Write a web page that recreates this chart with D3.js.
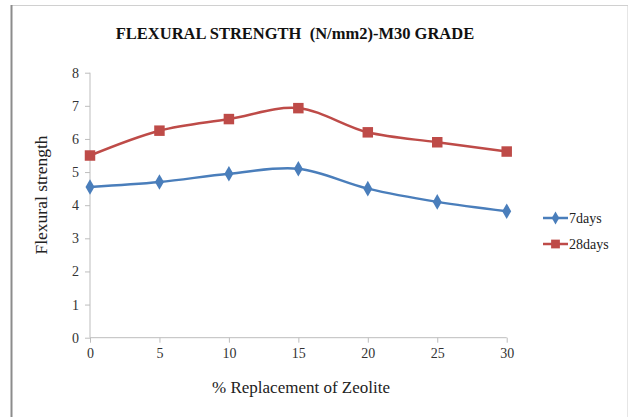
<!DOCTYPE html>
<html>
<head>
<meta charset="utf-8">
<script src="https://cdn.jsdelivr.net/npm/d3@7"></script>
<style>
  html, body { margin: 0; padding: 0; background: #fff; }
  svg { display: block; }
</style>
</head>
<body>
<svg id="chart" width="630" height="417" style="font-family: 'Liberation Serif', serif">
  <text id="title" x="295" y="39" text-anchor="middle" font-family="Liberation Serif" font-size="16.5" font-weight="bold" fill="#111" xml:space="preserve">FLEXURAL STRENGTH  (N/mm2)-M30 GRADE</text>
  <text id="ytitle" transform="translate(47,195) rotate(-90)" text-anchor="middle" font-family="Liberation Serif" font-size="17.5" fill="#222">Flexural strength</text>
  <text id="xtitle" x="301" y="393" text-anchor="middle" font-family="Liberation Serif" font-size="17" fill="#222">% Replacement of Zeolite</text>
</svg>
<script>
// Zeolite replacement levels (%) and flexural strength results (N/mm2)
const replacement = [0, 5, 10, 15, 20, 25, 30];
const days7  = [4.55, 4.7, 4.95, 5.1, 4.5, 4.1, 3.82];
const days28 = [5.5, 6.25, 6.6, 6.93, 6.2, 5.9, 5.62];
const yTicks = [0, 1, 2, 3, 4, 5, 6, 7, 8];
const xTicks = [0, 5, 10, 15, 20, 25, 30];
const seriesNames = ["7days", "28days"];

const serif = "Liberation Serif";
const svg = d3.select("#chart");

// outer frame
svg.insert("line", ":first-child").attr("x1", 11.5).attr("x2", 11.5).attr("y1", 5).attr("y2", 417)
  .attr("stroke", "#8c8c8c").attr("stroke-width", 2);
svg.insert("line", ":first-child").attr("x1", 11).attr("x2", 628).attr("y1", 5.5).attr("y2", 5.5)
  .attr("stroke", "#d0d0d0").attr("stroke-width", 1);
svg.insert("line", ":first-child").attr("x1", 627.5).attr("x2", 627.5).attr("y1", 5).attr("y2", 417)
  .attr("stroke", "#e6e6e6").attr("stroke-width", 1);

const x = d3.scaleLinear().domain([0, 30]).range([90, 506.7]);
const y = d3.scaleLinear().domain([0, 8]).range([337.7, 72.7]);

// axes
const axisColor = "#bdbdbd";
const yAxis = svg.append("g")
  .attr("transform", `translate(${x(0)},0)`)
  .call(d3.axisLeft(y).tickValues(yTicks).tickFormat(d3.format("d")).tickSize(5).tickPadding(6));
const xAxis = svg.append("g")
  .attr("transform", `translate(0,${y(0)})`)
  .call(d3.axisBottom(x).tickValues(xTicks).tickFormat(d3.format("d")).tickSize(5).tickPadding(5));

[yAxis, xAxis].forEach(g => {
  g.attr("font-family", null).attr("font-size", null);
  g.select(".domain").attr("stroke", axisColor);
  g.selectAll(".tick line").attr("stroke", axisColor);
  g.selectAll(".tick text")
    .attr("font-family", serif)
    .style("font-family", serif)
    .attr("font-size", 14).attr("fill", "#333");
});
yAxis.select(".domain").attr("d", `M0,${y(8)}V${y(0)}`);
xAxis.select(".domain").attr("d", `M${x(0)},0H${x(30)}`);

// series
const blue = "#4a7ebb", red = "#be4b48";
const line = d3.line()
  .x(d => x(d[0])).y(d => y(d[1]))
  .curve(d3.curveCatmullRom.alpha(0.5));

const series = [
  { name: seriesNames[0], values: days7, color: blue, marker: d3.symbolDiamond, size: 70 },
  { name: seriesNames[1], values: days28, color: red, marker: d3.symbolSquare, size: 110 }
];

series.forEach(s => {
  const pts = replacement.map((r, i) => [r, s.values[i]]);
  svg.append("path").datum(pts)
    .attr("d", line).attr("fill", "none")
    .attr("stroke", s.color).attr("stroke-width", 2.5);
  svg.append("g").selectAll("path").data(pts).join("path")
    .attr("transform", d => `translate(${x(d[0])},${y(d[1])})`)
    .attr("d", d3.symbol().type(s.marker).size(s.size))
    .attr("fill", s.color);
});

// legend
const legend = svg.append("g").attr("transform", "translate(543,218)");
series.forEach((s, i) => {
  const g = legend.append("g").attr("transform", `translate(0,${i * 26})`);
  g.append("line").attr("x1", 0).attr("x2", 25).attr("y1", 0).attr("y2", 0)
    .attr("stroke", s.color).attr("stroke-width", 2.5);
  g.append("path").attr("transform", "translate(12.5,0)")
    .attr("d", d3.symbol().type(s.marker).size(s.size * 0.7))
    .attr("fill", s.color);
  g.append("text").attr("x", 26).attr("y", 4.5)
    .attr("font-family", serif).style("font-family", serif)
    .attr("font-size", 14).attr("fill", "#222").text(s.name);
});
</script>
</body>
</html>
